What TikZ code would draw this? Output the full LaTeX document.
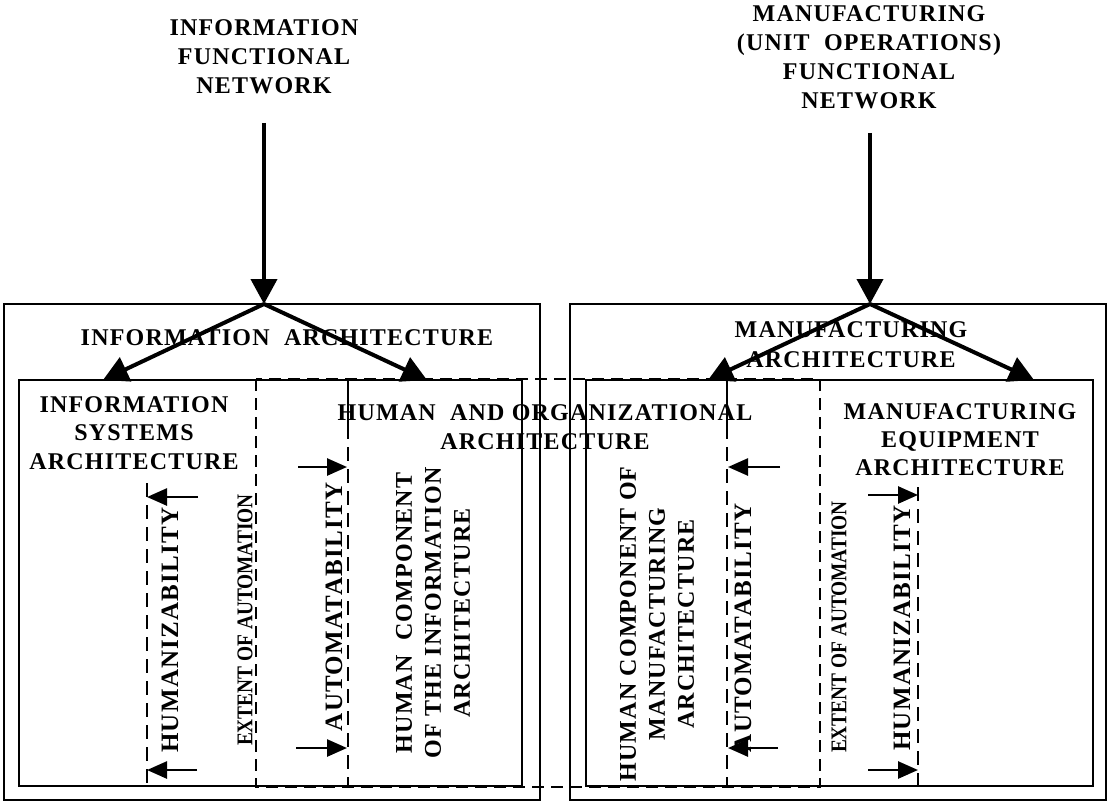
\documentclass[tikz,border=0pt]{standalone}
\usepackage{fontspec}
\setmainfont{Liberation Serif}[LetterSpace=5]
\newfontfamily\narrowserif{Liberation Serif}[FakeStretch=0.86]
\usetikzlibrary{arrows.meta}

\tikzset{
  lbl/.style={inner sep=0pt, align=center, font=\fontsize{24}{29}\selectfont\bfseries},
  biglbl/.style={inner sep=0pt, align=center, font=\fontsize{25}{30}\selectfont\bfseries, rotate=90},
  rotlbl/.style={inner sep=0pt, align=center, font=\fontsize{24}{29}\selectfont\bfseries, rotate=90},
  extlbl/.style={inner sep=0pt, font=\narrowserif\fontsize{22.5}{26}\selectfont\bfseries, rotate=90},
  frame/.style={line width=2pt},
  dashline/.style={line width=2.2pt, dash pattern=on 14pt off 8pt},
  hodash/.style={line width=2.2pt, dash pattern=on 12pt off 7pt},
  bigarrow/.style={line width=4pt, -{Triangle[length=25pt,width=26pt]}},
  smallarrow/.style={line width=2.6pt, -{Triangle[length=20pt,width=17pt]}},
}

\begin{document}
\begin{tikzpicture}[x=1pt, y=-1pt]
\useasboundingbox (0,0) rectangle (1110,802);

% functional networks
\node[lbl] (infoNet) at (264,57) {INFORMATION\\FUNCTIONAL\\NETWORK};
\node[lbl] (manNet) at (869,57) {MANUFACTURING\\(UNIT\ \ OPERATIONS)\\FUNCTIONAL\\NETWORK};

% outer architectures
\draw[frame] (4,304) rectangle (540,800);
\draw[frame] (570,304) rectangle (1106,800);
\node[lbl] (infoArch) at (287,338) {INFORMATION\ \ ARCHITECTURE};
\node[lbl, font=\fontsize{24}{30}\selectfont\bfseries] (manArch) at (851,345) {MANUFACTURING\\ARCHITECTURE};

% inner architectures
\draw[frame] (19,380) rectangle (522,786);
\draw[frame] (586,380) rectangle (1093,786);

% human and organizational architecture
\draw[hodash] (256,379) rectangle (820,787);
\node[lbl] (hoArch) at (545,427) {HUMAN\ \ AND ORGANIZATIONAL\\ARCHITECTURE};

\node[lbl, font=\fontsize{24}{28.5}\selectfont\bfseries] (infoSys) at (134,433) {INFORMATION\\SYSTEMS\\ARCHITECTURE};
\node[lbl, font=\fontsize{24}{28}\selectfont\bfseries] (manEq) at (960,440) {MANUFACTURING\\EQUIPMENT\\ARCHITECTURE};

% automatability boundaries
\draw[frame] (348,379) -- (348,425);
\draw[dashline] (348,425) -- (348,787);
\draw[frame] (727,379) -- (727,425);
\draw[dashline] (727,425) -- (727,787);

% humanizability boundaries
\draw[dashline] (147,483) -- (147,786);
\draw[dashline] (918,487) -- (918,786);

% rotated labels, information side
\node[biglbl] (humL) at (170,630) {HUMANIZABILITY};
\node[extlbl] (extL) at (245,620) {EXTENT OF AUTOMATION};
\node[biglbl] (autL) at (334,607) {AUTOMATABILITY};
\node[rotlbl] (hciL) at (433,613) {HUMAN\ \ COMPONENT\\OF THE INFORMATION\\ARCHITECTURE};

% rotated labels, manufacturing side
\node[rotlbl] (hcmR) at (657,624) {HUMAN COMPONENT OF\\MANUFACTURING\\ARCHITECTURE};
\node[biglbl] (autR) at (743,628) {AUTOMATABILITY};
\node[extlbl] (extR) at (839,627) {EXTENT OF AUTOMATION};
\node[biglbl] (humR) at (902,628) {HUMANIZABILITY};

% main flow arrows
\coordinate (srcI) at (264,123);
\coordinate (apexI) at (264,304);
\coordinate (tipIS) at (103,380);
\coordinate (tipHO) at (427,380);
\coordinate (srcM) at (870,133);
\coordinate (apexM) at (870,304);
\coordinate (tipHM) at (708,380);
\coordinate (tipME) at (1034,380);
\draw[bigarrow] (srcI) -- (apexI);
\draw[bigarrow] (apexI) -- (tipIS);
\draw[bigarrow] (apexI) -- (tipHO);
\draw[bigarrow] (srcM) -- (apexM);
\draw[bigarrow] (apexM) -- (tipHM);
\draw[bigarrow] (apexM) -- (tipME);

% boundary markers, information side
\coordinate (hL1s) at (198,497); \coordinate (hL1e) at (147,497);
\coordinate (hL2s) at (197,770); \coordinate (hL2e) at (147,770);
\coordinate (aL1s) at (298,467); \coordinate (aL1e) at (347,467);
\coordinate (aL2s) at (296,748); \coordinate (aL2e) at (347,748);
\draw[smallarrow] (hL1s) -- (hL1e);
\draw[smallarrow] (hL2s) -- (hL2e);
\draw[smallarrow] (aL1s) -- (aL1e);
\draw[smallarrow] (aL2s) -- (aL2e);

% boundary markers, manufacturing side
\coordinate (aR1s) at (780,467); \coordinate (aR1e) at (728,467);
\coordinate (aR2s) at (778,748); \coordinate (aR2e) at (728,748);
\coordinate (hR1s) at (868,495); \coordinate (hR1e) at (918,495);
\coordinate (hR2s) at (868,770); \coordinate (hR2e) at (918,770);
\draw[smallarrow] (aR1s) -- (aR1e);
\draw[smallarrow] (aR2s) -- (aR2e);
\draw[smallarrow] (hR1s) -- (hR1e);
\draw[smallarrow] (hR2s) -- (hR2e);
\end{tikzpicture}
\end{document}
